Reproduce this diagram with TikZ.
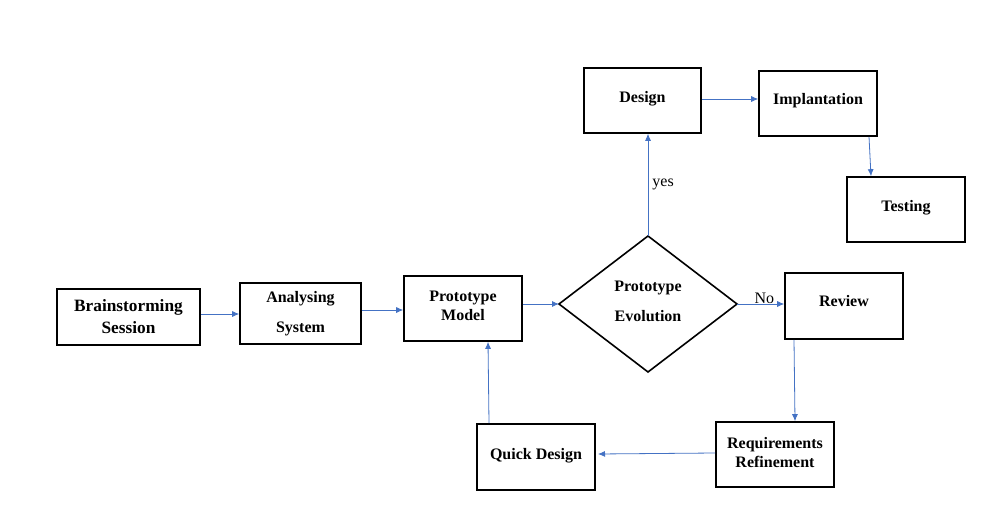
\documentclass[tikz,border=0pt]{standalone}
\usepackage{fontspec}
\setmainfont{Liberation Serif}[BoldFont={Liberation Serif Bold}]
\usetikzlibrary{arrows.meta,shapes.geometric}
\definecolor{arrowblue}{HTML}{4472C4}
\tikzset{
  box/.style={draw=black, line width=1.6pt, rectangle, inner sep=0pt, font=\fontsize{16}{20}\selectfont\bfseries, align=center},
  flow/.style={draw=arrowblue, line width=0.8pt, -{Latex[length=7pt,width=6pt]}},
  lbl/.style={font=\fontsize{16}{18}\selectfont, inner sep=0pt}
}
\begin{document}
\begin{tikzpicture}[x=1pt,y=-1pt]
\useasboundingbox (0,0) rectangle (984,529);
\fill[white] (0,0) rectangle (984,529);
% boxes (centers and sizes in px)
\node[box, minimum width=143pt, minimum height=56pt, font=\fontsize{17.3}{22}\selectfont\bfseries] (brain) at (128.5,317) {Brainstorming\\Session};
\node[box, minimum width=121pt, minimum height=61pt, font=\fontsize{16}{30}\selectfont\bfseries] (anal) at (300.5,313.5) {Analysing\\System};
\node[box, minimum width=118pt, minimum height=65pt] (proto) at (463,308.5) {\raisebox{6pt}{\shortstack{Prototype\\[1pt]Model}}};
\draw[line width=1.6pt] (559,304) coordinate (dl) -- (648,236) coordinate (dt) -- (737,304) coordinate (dr) -- (648,372) coordinate (db) -- cycle;
\node[font=\fontsize{16}{30}\selectfont\bfseries, align=center] (evaltext) at (648,301) {Prototype\\Evolution};
\node[box, minimum width=118pt, minimum height=66pt] (review) at (844,306) {\raisebox{10pt}{Review}};
\node[box, minimum width=117pt, minimum height=65pt] (design) at (642.5,100.5) {\raisebox{8pt}{Design}};
\node[box, minimum width=118pt, minimum height=65pt] (impl) at (818,103.5) {\raisebox{10pt}{Implantation}};
\node[box, minimum width=118pt, minimum height=65pt] (test) at (906,209.5) {\raisebox{8pt}{Testing}};
\node[box, minimum width=118pt, minimum height=65pt, font=\fontsize{16}{21}\selectfont\bfseries] (req) at (775,454.5) {\raisebox{4pt}{\shortstack{Requirements\\[1pt]Refinement}}};
\node[box, minimum width=118pt, minimum height=66pt] (quick) at (536,457) {\raisebox{6pt}{Quick Design}};
% connectors
\draw[flow] (brain.east |- 0,314) -- (anal.west |- 0,314);
\draw[flow] (anal.east |- 0,310) -- (proto.west |- 0,310);
\draw[flow] (proto.east |- 0,304) -- (dl);
\draw[flow] (dr) -- (review.west |- 0,304) node[lbl, pos=0.58, above, yshift=0pt] (no) {No};
\draw[flow] (dt) -- (design.south -| 648,0) node[lbl, pos=0.5, right, xshift=4pt] (yes) {yes};
\draw[flow] (design.east |- 0,99) -- (impl.west |- 0,99);
\draw[flow] (impl.south -| 869,0) -- (test.north -| 871,0);
\draw[flow] (review.south -| 794,0) -- (req.north -| 795,0);
\coordinate (qend) at (598,454);
\draw[flow] (req.west |- 0,453) -- (qend);
\draw[flow] (quick.north -| 489,0) -- (proto.south -| 488,0);
\end{tikzpicture}
\end{document}
